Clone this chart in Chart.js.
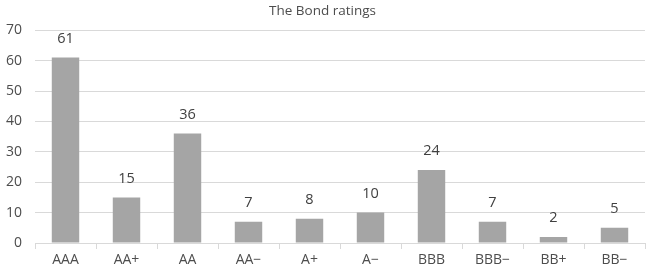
<!DOCTYPE html>
<html>
<head>
<meta charset="utf-8">
<script src="https://cdn.jsdelivr.net/npm/chart.js@4"></script>
<style>
  html, body { margin: 0; padding: 0; background: #fff; }
  #wrap { width: 650px; height: 277px; }
</style>
</head>
<body>
<div id="wrap"><canvas id="c" width="650" height="277"></canvas></div>
<script>
// ---- data
const ratings = ["AAA", "AA+", "AA", "AA\u2212", "A+", "A\u2212", "BBB", "BBB\u2212", "BB+", "BB\u2212"];
const counts  = [61, 15, 36, 7, 8, 10, 24, 7, 2, 5];
const yTicks  = [0, 10, 20, 30, 40, 50, 60, 70];

const FONT = "'Open Sans', 'Noto Sans', sans-serif";
const GRID = "#d9d9d9";
const TXT = "#4d4d4d";

// value labels above each bar, placed from the bar elements
const barLabels = {
  id: "barLabels",
  afterDatasetsDraw(chart) {
    const ctx = chart.ctx;
    ctx.save();
    ctx.font = "14.5px " + FONT;
    ctx.fillStyle = "#404040";
    ctx.textAlign = "center";
    ctx.textBaseline = "middle";
    chart.getDatasetMeta(0).data.forEach((bar, i) => {
      ctx.fillText(String(counts[i]), bar.x, bar.y - 19);
    });
    ctx.restore();
  },
};

new Chart(document.getElementById("c"), {
  type: "bar",
  data: {
    labels: ratings,
    datasets: [{
      data: counts,
      backgroundColor: "#a5a5a5",
      borderWidth: 0,
      barPercentage: 0.45,
      categoryPercentage: 1,
    }],
  },
  options: {
    responsive: false,
    animation: false,
    layout: { padding: { left: 0, right: 5, top: 0, bottom: 0 } },
    plugins: {
      legend: { display: false },
      tooltip: { enabled: false },
      title: {
        display: true, text: "The Bond ratings", color: TXT,
        font: { family: FONT, size: 13.5, weight: "normal" },
        padding: { top: 3, bottom: 11 },
      },
    },
    scales: {
      x: {
        grid: { display: true, offset: true, drawOnChartArea: false, color: GRID, tickLength: 6 },
        border: { display: true, color: GRID },
        ticks: { color: TXT, font: { family: FONT, size: 14 }, padding: 3, maxRotation: 0 },
        afterFit: s => { s.height = 34; },
      },
      y: {
        min: 0, max: 70,
        afterBuildTicks: s => { s.ticks = yTicks.map(v => ({ value: v })); },
        grid: { color: GRID, drawTicks: false },
        border: { display: false },
        ticks: { color: TXT, font: { family: FONT, size: 14 }, padding: 13 },
        afterFit: s => { s.width = 35; },
      },
    },
  },
  plugins: [barLabels],
});
</script>
</body>
</html>
